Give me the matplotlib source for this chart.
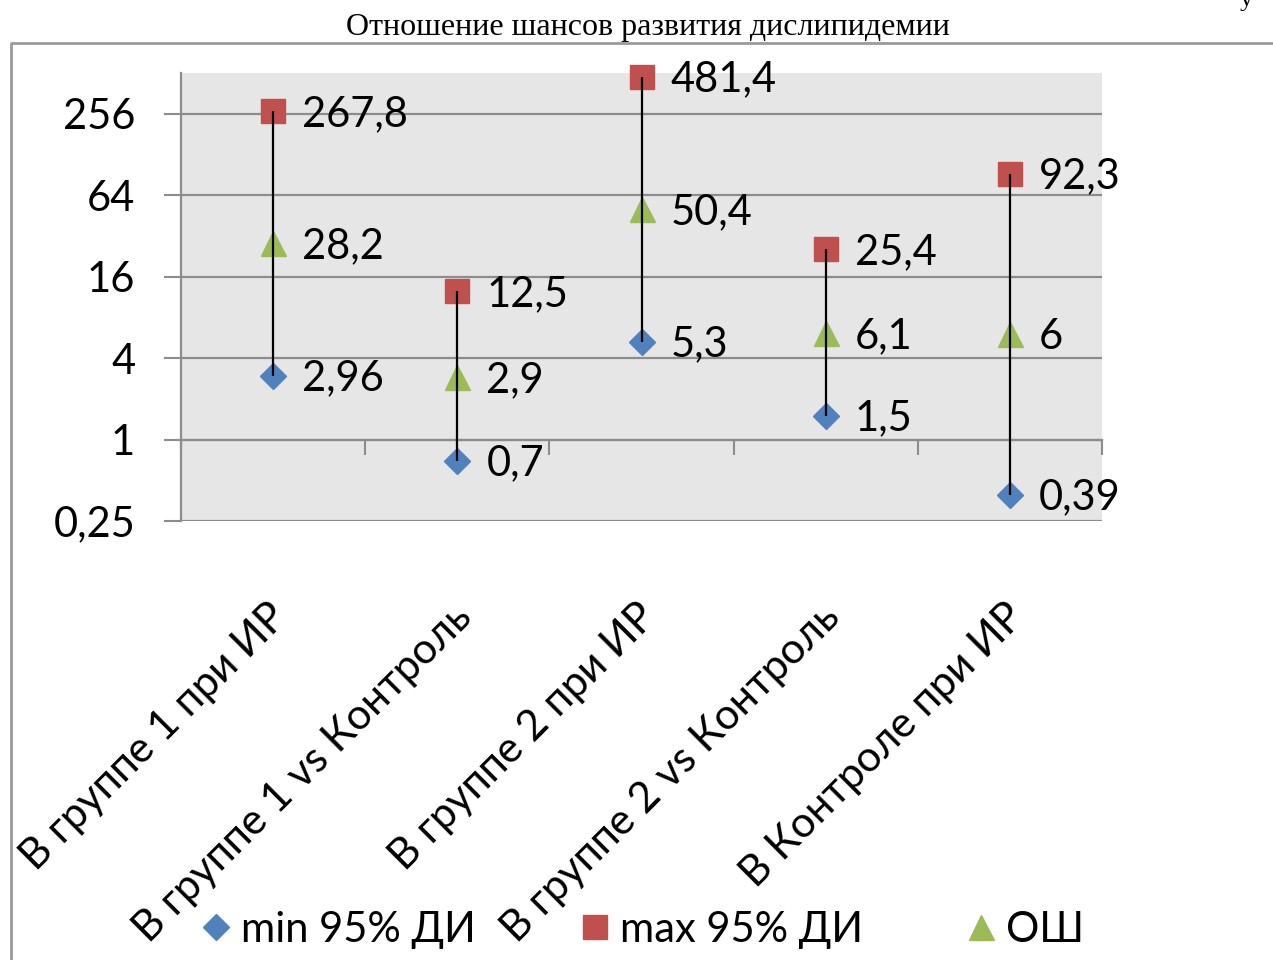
import matplotlib
matplotlib.use("Agg")
import matplotlib.pyplot as plt
from matplotlib.lines import Line2D
from matplotlib.ticker import FixedLocator, FixedFormatter, NullLocator
import matplotlib.transforms as mtransforms

# Data
categories = ["В группе 1 при ИР", "В группе 1 vs Контроль", "В группе 2 при ИР",
              "В группе 2 vs Контроль", "В Контроле при ИР"]
ci_min = [2.96, 0.7, 5.3, 1.5, 0.39]
ci_max = [267.8, 12.5, 481.4, 25.4, 92.3]
odds_ratio = [28.2, 2.9, 50.4, 6.1, 6]
y_ticks = [0.25, 1, 4, 16, 64, 256]
y_tick_labels = ["0,25", "1", "4", "16", "64", "256"]
series_names = ["min 95% ДИ", "max 95% ДИ", "ОШ"]

BLUE = "#4f81bd"
RED = "#c0504d"
GREEN = "#9bbb59"
GRID = "#8c8c8c"
FONT = "Lato"
FS = 30


def fmt(v):
    return f"{v:g}".replace(".", ",")


fig = plt.figure(figsize=(12.73, 9.6), dpi=100)
ax = fig.add_axes([181 / 1273, 1 - 521 / 960, 921 / 1273, 448 / 960])
ax.set_facecolor("#e6e6e6")

x = list(range(1, len(categories) + 1))

# high-low lines between interval bounds, drawn over the markers
ax.vlines(x, ci_min, ci_max, color="black", lw=1.6, zorder=5, clip_on=False)
ax.plot(x, ci_min, ls="none", marker="D", ms=13, color=BLUE, zorder=4,
        label=series_names[0], clip_on=False)
ax.plot(x, ci_max, ls="none", marker="s", ms=17.5, color=RED, zorder=4,
        label=series_names[1], clip_on=False)
ax.plot(x, odds_ratio, ls="none", marker="^", ms=18, color=GREEN, zorder=4,
        label=series_names[2], clip_on=False)

for series in (ci_min, ci_max, odds_ratio):
    for xi, v in zip(x, series):
        ax.annotate(fmt(v), (xi, v), xytext=(21, -2), textcoords="offset points",
                    va="center", ha="left", fontsize=FS, family=FONT, zorder=6)

ax.set_yscale("log", base=2)
ax.set_ylim(0.25, 512)
ax.set_xlim(0.5, len(categories) + 0.5)

ax.yaxis.set_major_locator(FixedLocator(y_ticks))
ax.yaxis.set_major_formatter(FixedFormatter(y_tick_labels))
ax.yaxis.set_minor_locator(NullLocator())
ax.tick_params(axis="y", length=12, width=1.5, color=GRID, pad=21,
               labelsize=FS, labelfontfamily=FONT)
ax.yaxis.grid(True, color=GRID, lw=1.6, zorder=1)
ax.set_axisbelow(True)

# category axis crosses at 1, tick marks between categories
ax.spines["bottom"].set_position(("data", 1))
ax.spines["bottom"].set_color(GRID)
ax.spines["bottom"].set_linewidth(1.6)
ax.spines["left"].set_color(GRID)
ax.spines["left"].set_linewidth(1.6)
ax.spines["top"].set_visible(False)
ax.spines["right"].set_visible(False)
ax.xaxis.set_major_locator(FixedLocator([i + 0.5 for i in range(0, len(categories) + 1)]))
ax.xaxis.set_minor_locator(NullLocator())
ax.tick_params(axis="x", length=11, width=1.5, color=GRID, labelbottom=False)

# rotated category labels below the plot area
trans = mtransforms.blended_transform_factory(ax.transData, ax.transAxes)
for xi, name in zip(x, categories):
    ax.text(xi - 0.03, -0.17, name, transform=trans, rotation=45, rotation_mode="anchor",
            ha="right", va="top", fontsize=FS + 0.5, family=FONT)

# title and outer frame
fig.text(648 / 1273, 1 - 27 / 960, "Отношение шансов развития дислипидемии",
         ha="center", va="center", fontsize=23, family="Liberation Serif")
fig.text(1246 / 1273, 1.0, "у", ha="center", va="center", fontsize=19, family="Liberation Serif")
fig.add_artist(Line2D([11 / 1273, 11 / 1273, 1.0], [0.0, 1 - 43 / 960, 1 - 43 / 960],
                      transform=fig.transFigure, color="#9a9a9a", lw=2))

fig.legend(loc="center", bbox_to_anchor=(643 / 1273, 1 - 930 / 960), ncol=3, frameon=False,
           prop={"family": FONT, "size": FS}, handlelength=0.7, handletextpad=0.25,
           columnspacing=2.5, markerscale=1.0)

fig.savefig("out.png", dpi=100, facecolor="white")
